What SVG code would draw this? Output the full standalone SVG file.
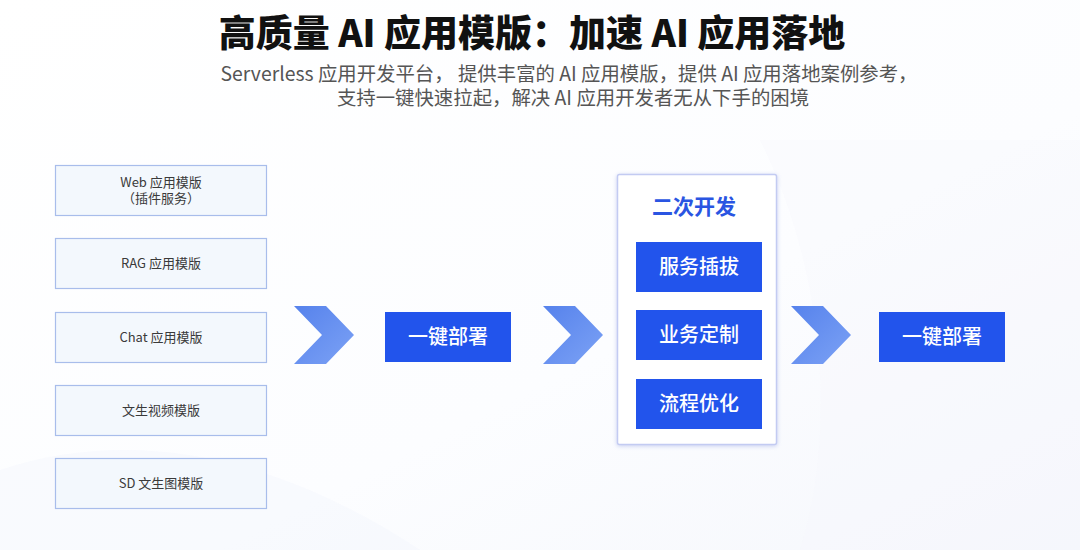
<svg xmlns="http://www.w3.org/2000/svg" width="1080" height="550" viewBox="0 0 1080 550">
<defs>
<style>
.tpl rect{fill:#f3f8fd;stroke:#a8bdeb;stroke-width:1.2}
.tpl text{font-family:"Noto Sans CJK SC","Noto Sans",sans-serif;font-size:13px;fill:#3a3a3a;text-anchor:middle}
.btn rect{fill:#2254ec}
.btn text{font-family:"Noto Sans CJK SC","Noto Sans",sans-serif;font-size:20px;font-weight:500;fill:#ffffff;text-anchor:middle}
.chev{fill:url(#cg)}
</style>
<linearGradient id="cg" x1="0" y1="0" x2="1" y2="1">
<stop offset="0" stop-color="#5682ec"/>
<stop offset="1" stop-color="#7ca2f5"/>
</linearGradient>
<linearGradient id="bg" x1="0" y1="0" x2="1" y2="1">
<stop offset="0" stop-color="#ffffff"/>
<stop offset="0.6" stop-color="#fcfdff"/>
<stop offset="1" stop-color="#f5f7fc"/>
</linearGradient>
<filter id="sh" x="-10%" y="-10%" width="120%" height="120%">
<feDropShadow dx="0" dy="1" stdDeviation="2" flood-color="#8c9be0" flood-opacity="0.45"/>
</filter>
</defs>
<rect x="0" y="0" width="1080" height="550" fill="url(#bg)"/>
<path d="M0 470 C 150 420, 300 470, 420 550 L 0 550 Z" fill="#f2f4fb" opacity="0.35"/>
<path d="M760 140 C 820 260, 840 420, 800 550 L 1080 550 L 1080 140 Z" fill="#f6f7fd" opacity="0.35"/>

<g id="title">
<text x="532" y="47" font-family="'Noto Sans CJK SC','Noto Sans',sans-serif" font-size="37" font-weight="900" fill="#111111" text-anchor="middle">高质量 AI 应用模版：加速 AI 应用落地</text>
<text x="569" y="81" font-family="'Noto Sans CJK SC','Noto Sans',sans-serif" font-size="19.4" fill="#555555" text-anchor="middle">Serverless 应用开发平台， 提供丰富的 AI 应用模版，提供 AI 应用落地案例参考，</text>
<text x="573" y="105" font-family="'Noto Sans CJK SC','Noto Sans',sans-serif" font-size="19.4" fill="#555555" text-anchor="middle">支持一键快速拉起，解决 AI 应用开发者无从下手的困境</text>
</g>

<g id="tpl-web" class="tpl">
<rect x="55.5" y="165.5" width="211" height="50"/>
<text x="161" y="187">Web 应用模版</text>
<text x="161" y="203">（插件服务）</text>
</g>
<g id="tpl-rag" class="tpl">
<rect x="55.5" y="238.5" width="211" height="50"/>
<text x="161" y="268">RAG 应用模版</text>
</g>
<g id="tpl-chat" class="tpl">
<rect x="55.5" y="312.5" width="211" height="50"/>
<text x="161" y="342">Chat 应用模版</text>
</g>
<g id="tpl-video" class="tpl">
<rect x="55.5" y="385.5" width="211" height="50"/>
<text x="161" y="415">文生视频模版</text>
</g>
<g id="tpl-sd" class="tpl">
<rect x="55.5" y="458.5" width="211" height="50"/>
<text x="161" y="488">SD 文生图模版</text>
</g>

<g id="connectors">
<polygon class="chev" points="294,306 326,306 354,335 326,364 294,364 322,335"/>
<polygon class="chev" points="543,306 575,306 603,335 575,364 543,364 571,335"/>
<polygon class="chev" points="791,306 823,306 851,335 823,364 791,364 819,335"/>
</g>

<g id="deploy1" class="btn">
<rect x="385" y="312" width="126" height="50"/>
<text x="448" y="344">一键部署</text>
</g>

<g id="dev">
<rect x="617.5" y="174.5" width="159" height="270" rx="2" fill="#ffffff" stroke="#c3cbf2" stroke-width="1.5" filter="url(#sh)"/>
<text x="694" y="214" font-family="'Noto Sans CJK SC','Noto Sans',sans-serif" font-size="21" font-weight="700" fill="#2a55e2" text-anchor="middle">二次开发</text>
</g>
<g id="plug" class="btn">
<rect x="636" y="242" width="126" height="50"/>
<text x="699" y="274">服务插拔</text>
</g>
<g id="custom" class="btn">
<rect x="636" y="310" width="126" height="50"/>
<text x="699" y="342">业务定制</text>
</g>
<g id="flow" class="btn">
<rect x="636" y="379" width="126" height="50"/>
<text x="699" y="411">流程优化</text>
</g>

<g id="deploy2" class="btn">
<rect x="879" y="312" width="126" height="50"/>
<text x="942" y="344">一键部署</text>
</g>
</svg>
